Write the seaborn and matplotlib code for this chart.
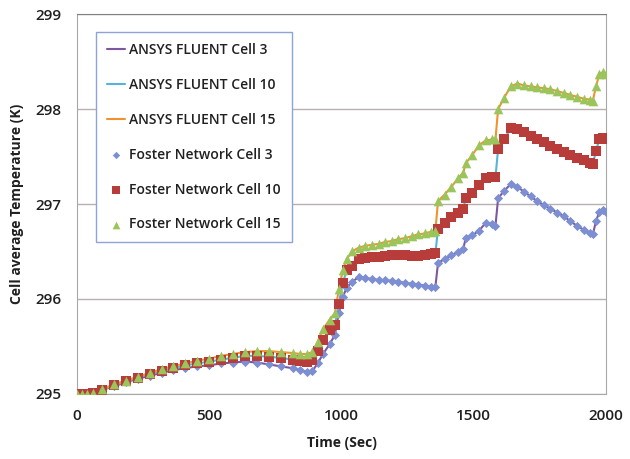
import matplotlib
matplotlib.use('Agg')
import matplotlib.pyplot as plt
import seaborn as sns

# time (s) and cell average temperature (K)
time_s = [0, 20, 40, 60, 95, 140, 185, 230, 275, 320, 365, 410, 455, 500,
          545, 590, 635, 680, 725, 770, 815, 845, 870, 890,
          910, 930, 955, 975, 990, 1005, 1020, 1040,
          1065, 1090, 1115, 1140, 1165, 1190, 1215, 1240, 1265, 1290,
          1315, 1340, 1355, 1365, 1390, 1415, 1440, 1460, 1470, 1495,
          1520, 1545, 1570, 1582, 1592, 1615, 1640, 1665, 1690, 1715,
          1740, 1765, 1790, 1815, 1840, 1865, 1890, 1915, 1940, 1950,
          1962, 1975, 1990, 2000]

cell3 = [295.00, 295.00, 295.00, 295.01, 295.04, 295.08, 295.12, 295.16, 295.19, 295.22,
         295.25, 295.27, 295.29, 295.30, 295.32, 295.33, 295.34, 295.33, 295.31, 295.29,
         295.27, 295.25, 295.23, 295.24, 295.32, 295.42, 295.52, 295.62, 295.85, 296.02,
         296.12, 296.18, 296.23, 296.22, 296.21, 296.20, 296.20, 296.19, 296.18, 296.17,
         296.16, 296.15, 296.14, 296.13, 296.13, 296.38, 296.42, 296.46, 296.49, 296.53,
         296.64, 296.67, 296.72, 296.80, 296.79, 296.77, 297.06, 297.14, 297.21, 297.18,
         297.13, 297.08, 297.03, 296.99, 296.95, 296.91, 296.87, 296.82, 296.77, 296.73,
         296.69, 296.68, 296.82, 296.92, 296.94, 296.92]

cell10 = [295.00, 295.00, 295.00, 295.01, 295.04, 295.09, 295.13, 295.17, 295.21, 295.24,
          295.27, 295.30, 295.32, 295.34, 295.36, 295.38, 295.40, 295.40, 295.39, 295.38,
          295.36, 295.35, 295.34, 295.36, 295.45, 295.57, 295.67, 295.72, 295.95, 296.17,
          296.30, 296.35, 296.42, 296.43, 296.44, 296.44, 296.45, 296.46, 296.46, 296.46,
          296.45, 296.45, 296.46, 296.47, 296.48, 296.74, 296.80, 296.86, 296.91, 296.95,
          297.06, 297.12, 297.20, 297.27, 297.28, 297.28, 297.58, 297.68, 297.80, 297.79,
          297.76, 297.72, 297.68, 297.65, 297.61, 297.58, 297.55, 297.52, 297.49, 297.46,
          297.43, 297.42, 297.56, 297.69, 297.70, 297.68]

cell15 = [295.00, 295.00, 295.00, 295.01, 295.05, 295.10, 295.14, 295.18, 295.22, 295.26,
          295.29, 295.32, 295.35, 295.37, 295.40, 295.42, 295.44, 295.45, 295.45, 295.44,
          295.43, 295.42, 295.42, 295.44, 295.55, 295.68, 295.78, 295.85, 296.10, 296.30,
          296.42, 296.50, 296.54, 296.56, 296.57, 296.58, 296.60, 296.61, 296.63, 296.64,
          296.66, 296.68, 296.69, 296.71, 296.72, 297.03, 297.10, 297.18, 297.27, 297.33,
          297.43, 297.52, 297.62, 297.67, 297.68, 297.68, 298.00, 298.12, 298.24, 298.27,
          298.25, 298.24, 298.23, 298.22, 298.21, 298.19, 298.17, 298.15, 298.13, 298.11,
          298.10, 298.09, 298.24, 298.37, 298.39, 298.37]

x_ticks = [0, 500, 1000, 1500, 2000]
y_ticks = [295, 296, 297, 298, 299]

sns.set_style('white')
plt.rcParams['font.family'] = ['Open Sans', 'DejaVu Sans']

fig, ax = plt.subplots(figsize=(6.3, 4.59), dpi=100)
fig.subplots_adjust(left=0.122, right=0.962, top=0.969, bottom=0.142)

# ANSYS FLUENT lines
sns.lineplot(x=time_s, y=cell3, color='#7e57a0', lw=1.5, ax=ax, label='ANSYS FLUENT Cell 3', sort=False)
sns.lineplot(x=time_s, y=cell10, color='#56b4d6', lw=1.5, ax=ax, label='ANSYS FLUENT Cell 10', sort=False)
sns.lineplot(x=time_s, y=cell15, color='#f0922e', lw=1.5, ax=ax, label='ANSYS FLUENT Cell 15', sort=False)

# Foster network markers
sns.scatterplot(x=time_s, y=cell3, marker='D', color='#7d8fd3', s=22, linewidth=0, ax=ax,
                label='Foster Network Cell 3', zorder=3)
sns.scatterplot(x=time_s, y=cell10, marker='s', color='#b83c3a', s=50, linewidth=0, ax=ax,
                label='Foster Network Cell 10', zorder=3)
sns.scatterplot(x=time_s, y=cell15, marker='^', color='#9bc45a', s=48, linewidth=0, ax=ax,
                label='Foster Network Cell 15', zorder=3)

ax.set_xlim(0, 2000)
ax.set_ylim(295, 299)
ax.set_xticks(x_ticks)
ax.set_yticks(y_ticks)
ax.grid(axis='y', color='#b8b0b0', lw=1)
ax.set_axisbelow(True)
for side in ['left', 'bottom', 'right', 'top']:
    ax.spines[side].set_color('#a8a8a8')
ax.spines['top'].set_color('#808080')
ax.tick_params(axis='both', direction='out', length=5, color='#a8a8a8', labelsize=11,
               labelcolor='#202020', pad=6)
for lab in ax.get_xticklabels() + ax.get_yticklabels():
    lab.set_fontweight('semibold')

ax.set_xlabel('Time (Sec)', fontsize=10, fontweight='bold', color='#202020', labelpad=9)
ax.set_ylabel('Cell average Temperature (K)', fontsize=10, fontweight='bold', color='#202020', labelpad=8)

leg = ax.legend(loc='upper left', bbox_to_anchor=(0.036, 0.953), borderaxespad=0, fontsize=10,
                labelspacing=1.5, handlelength=1.3, handletextpad=0.3, borderpad=0.8,
                fancybox=False, framealpha=1, edgecolor='#8ea3d6', markerscale=0.8)
leg.get_frame().set_linewidth(1.0)
for txt in leg.get_texts():
    txt.set_fontweight('semibold')
    txt.set_color('#202020')

fig.savefig('out.png', dpi=100)
